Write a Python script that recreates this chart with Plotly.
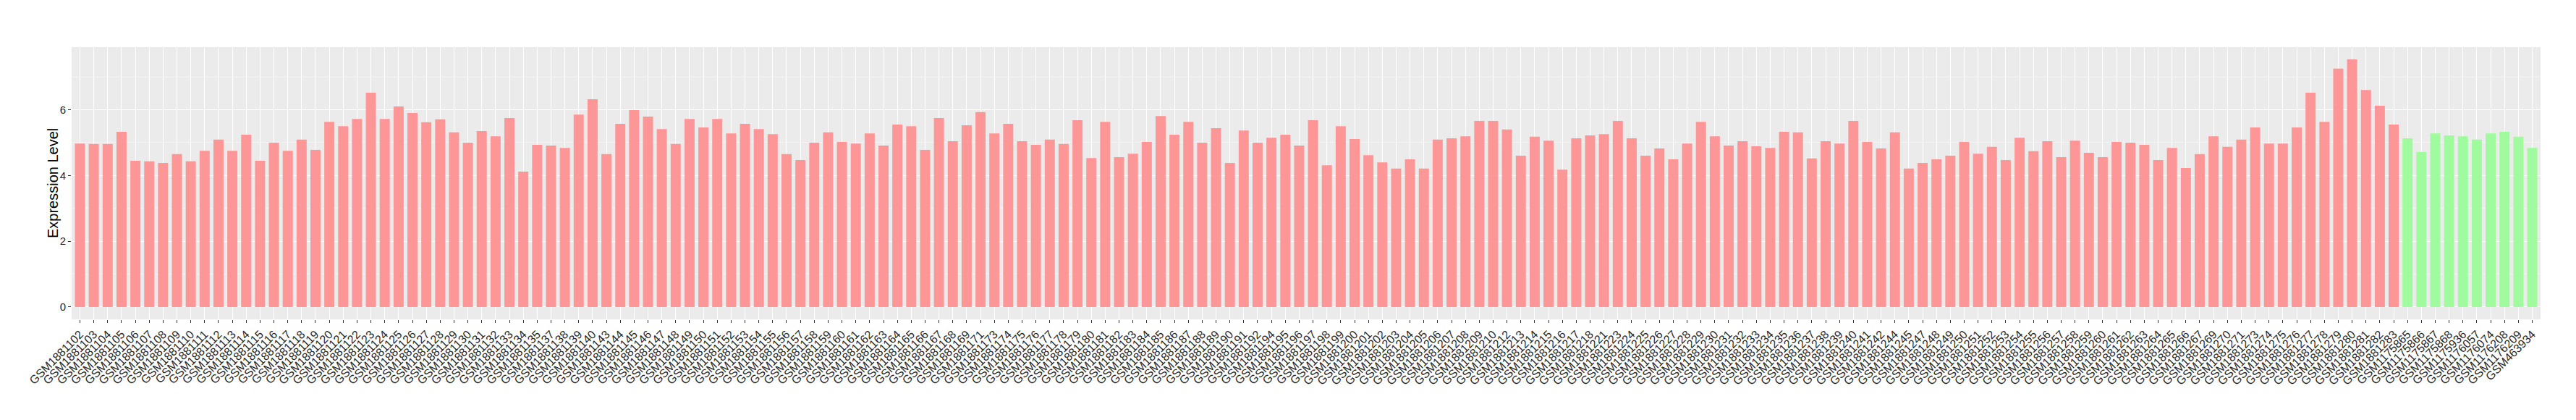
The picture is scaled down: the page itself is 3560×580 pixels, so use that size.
import plotly.graph_objects as go

# sample ids in plotting order (tumour group first, normal group last)
tumor_samples = [
    "GSM1881102", "GSM1881103", "GSM1881104", "GSM1881105", "GSM1881106", "GSM1881107", "GSM1881108",
    "GSM1881109", "GSM1881110", "GSM1881111", "GSM1881112", "GSM1881113", "GSM1881114", "GSM1881115",
    "GSM1881116", "GSM1881117", "GSM1881118", "GSM1881119", "GSM1881120", "GSM1881121", "GSM1881122",
    "GSM1881123", "GSM1881124", "GSM1881125", "GSM1881126", "GSM1881127", "GSM1881128", "GSM1881129",
    "GSM1881130", "GSM1881131", "GSM1881132", "GSM1881133", "GSM1881134", "GSM1881135", "GSM1881137",
    "GSM1881138", "GSM1881139", "GSM1881140", "GSM1881143", "GSM1881144", "GSM1881145", "GSM1881146",
    "GSM1881147", "GSM1881148", "GSM1881149", "GSM1881150", "GSM1881151", "GSM1881152", "GSM1881153",
    "GSM1881154", "GSM1881155", "GSM1881156", "GSM1881157", "GSM1881158", "GSM1881159", "GSM1881160",
    "GSM1881161", "GSM1881162", "GSM1881163", "GSM1881164", "GSM1881165", "GSM1881166", "GSM1881167",
    "GSM1881168", "GSM1881169", "GSM1881171", "GSM1881173", "GSM1881174", "GSM1881175", "GSM1881176",
    "GSM1881177", "GSM1881178", "GSM1881179", "GSM1881180", "GSM1881181", "GSM1881182", "GSM1881183",
    "GSM1881184", "GSM1881185", "GSM1881186", "GSM1881187", "GSM1881188", "GSM1881189", "GSM1881190",
    "GSM1881191", "GSM1881192", "GSM1881194", "GSM1881195", "GSM1881196", "GSM1881197", "GSM1881198",
    "GSM1881199", "GSM1881200", "GSM1881201", "GSM1881202", "GSM1881203", "GSM1881204", "GSM1881205",
    "GSM1881206", "GSM1881207", "GSM1881208", "GSM1881209", "GSM1881210", "GSM1881212", "GSM1881213",
    "GSM1881214", "GSM1881215", "GSM1881216", "GSM1881217", "GSM1881218", "GSM1881221", "GSM1881223",
    "GSM1881224", "GSM1881225", "GSM1881226", "GSM1881227", "GSM1881228", "GSM1881229", "GSM1881230",
    "GSM1881231", "GSM1881232", "GSM1881233", "GSM1881234", "GSM1881235", "GSM1881236", "GSM1881237",
    "GSM1881238", "GSM1881239", "GSM1881240", "GSM1881241", "GSM1881242", "GSM1881244", "GSM1881245",
    "GSM1881247", "GSM1881248", "GSM1881249", "GSM1881250", "GSM1881251", "GSM1881252", "GSM1881253",
    "GSM1881254", "GSM1881255", "GSM1881256", "GSM1881257", "GSM1881258", "GSM1881259", "GSM1881260",
    "GSM1881261", "GSM1881262", "GSM1881263", "GSM1881264", "GSM1881265", "GSM1881266", "GSM1881267",
    "GSM1881269", "GSM1881270", "GSM1881271", "GSM1881273", "GSM1881274", "GSM1881275", "GSM1881276",
    "GSM1881277", "GSM1881278", "GSM1881279", "GSM1881280", "GSM1881281", "GSM1881282", "GSM1881283",
]
tumor_levels = [
    4.97, 4.96, 4.96, 5.33, 4.45, 4.43, 4.38, 4.65, 4.43, 4.75, 5.09, 4.75, 5.24, 4.45,
    5.00, 4.75, 5.09, 4.78, 5.63, 5.50, 5.72, 6.52, 5.72, 6.10, 5.90, 5.62,
    5.71, 5.31, 5.00, 5.35, 5.19, 5.75, 4.12, 4.93,
    4.91, 4.84, 5.85, 6.32,
    4.65, 5.57, 5.99, 5.79, 5.41, 4.96, 5.72, 5.46, 5.72, 5.28, 5.57, 5.41, 5.26, 4.65,
    4.47, 5.00, 5.31, 5.02, 4.97, 5.28, 4.91, 5.55, 5.50, 4.78, 5.75, 5.04, 5.53,
    5.93,
    5.28, 5.57, 5.04, 4.93, 5.09, 4.96, 5.68, 4.53, 5.63, 4.56, 4.66, 5.02, 5.81, 5.24,
    5.63, 5.00, 5.44, 4.38, 5.37, 5.00,
    5.15, 5.24, 4.91, 5.68, 4.31, 5.50, 5.11, 4.62, 4.40, 4.21, 4.49, 4.21, 5.09, 5.13,
    5.19, 5.66, 5.66,
    5.40, 4.60, 5.18, 5.06, 4.18, 5.13, 5.22,
    5.26,
    5.66, 5.13, 4.60, 4.82, 4.49, 4.97, 5.63, 5.19, 4.91, 5.04, 4.89, 4.84, 5.33, 5.31,
    4.52, 5.04, 4.97, 5.66, 5.02, 4.82,
    5.31, 4.21,
    4.38, 4.49, 4.60, 5.02, 4.66, 4.87, 4.47, 5.15, 4.74, 5.04, 4.56, 5.06, 4.69, 4.56,
    5.02, 5.00, 4.93, 4.47, 4.84, 4.23, 4.65,
    5.19, 4.87, 5.09,
    5.46, 4.97, 4.97, 5.46, 6.52, 5.63, 7.25, 7.53, 6.60, 6.12, 5.55,
]

normal_samples = [
    "GSM1175865", "GSM1175866", "GSM1175867", "GSM1175868", "GSM1175936",
    "GSM1176057", "GSM1176074", "GSM1176208", "GSM1176209", "GSM463934",
]
normal_levels = [5.13, 4.71, 5.28, 5.22, 5.19, 5.09, 5.28, 5.33, 5.18, 4.84]

y_ticks = [0, 2, 4, 6]

all_samples = tumor_samples + normal_samples
top_value = max(tumor_levels + normal_levels)
pad = top_value * 0.05

W, H = 3560, 580
margin = dict(l=91, r=57, t=57, b=147)
plot_w = W - margin["l"] - margin["r"]
tick_text_color = "#262626"

fig = go.Figure()
fig.add_trace(
    go.Bar(
        x=tumor_samples,
        y=tumor_levels,
        marker_color="#FD9797",
        marker_line_width=0,
        width=0.73,
        showlegend=False,
    )
)
fig.add_trace(
    go.Bar(
        x=normal_samples,
        y=normal_levels,
        marker_color="#A0FB9E",
        marker_line_width=0,
        width=0.73,
        showlegend=False,
    )
)

# y-axis title placed by hand so it sits where ggplot put it
fig.add_annotation(
    text="Expression Level",
    xref="paper",
    yref="paper",
    x=-(margin["l"] - 65) / plot_w,
    y=0.5,
    xanchor="center",
    yanchor="middle",
    textangle=-90,
    showarrow=False,
    font=dict(size=20, color="black"),
)

fig.update_layout(
    width=W,
    height=H,
    paper_bgcolor="white",
    plot_bgcolor="#EBEBEB",
    font=dict(family="Liberation Sans, Arial, sans-serif", color=tick_text_color, size=16),
    margin=margin,
    xaxis=dict(
        type="category",
        categoryorder="array",
        categoryarray=all_samples,
        range=[-0.6, len(all_samples) - 0.4],
        tickangle=-45,
        ticks="outside",
        ticklen=4,
        tickwidth=1,
        tickcolor="#333333",
        tickfont=dict(size=16, color=tick_text_color),
        showgrid=True,
        gridcolor="white",
        gridwidth=1.4,
        zeroline=False,
        showline=False,
        automargin=False,
    ),
    yaxis=dict(
        range=[-pad, top_value + pad],
        tickvals=y_ticks,
        ticks="outside",
        ticklen=4,
        tickwidth=1,
        tickcolor="#333333",
        tickfont=dict(size=15, color=tick_text_color),
        showgrid=True,
        gridcolor="white",
        gridwidth=1.4,
        minor=dict(dtick=1, tick0=0, showgrid=True, gridcolor="#F4F4F4", gridwidth=0.7, ticks=""),
        zeroline=False,
        showline=False,
        automargin=False,
    ),
)

fig.write_html("out.html")
